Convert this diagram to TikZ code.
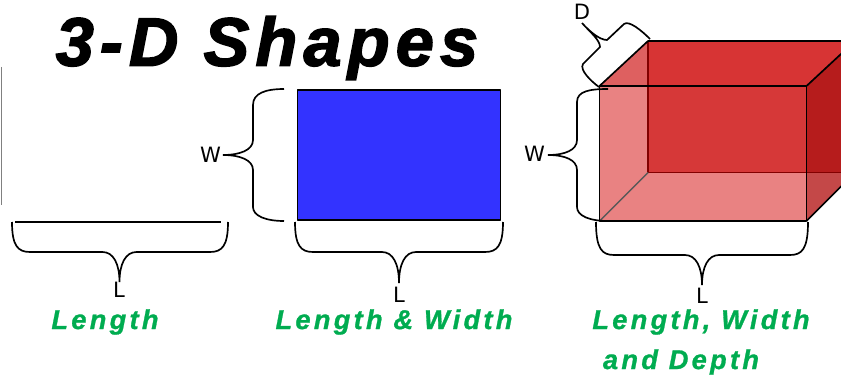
\documentclass[tikz,border=0pt]{standalone}
\usepackage{fontspec}
\setmainfont{Liberation Sans}
\newfontfamily\dimfont{DejaVu Sans}
\usetikzlibrary{arrows.meta,positioning}
\definecolor{cTitle}{RGB}{0,0,0}
\definecolor{cLabel}{RGB}{0,172,80}
\definecolor{cBlue}{RGB}{51,51,255}
\definecolor{cBack}{RGB}{214,56,56}
\definecolor{cTop}{RGB}{215,52,52}
\definecolor{cCorner}{RGB}{222,96,96}
\definecolor{cSide}{RGB}{233,130,130}
\definecolor{cRight}{RGB}{182,28,28}
\definecolor{cLow}{RGB}{196,72,72}
\definecolor{cEdge}{RGB}{130,0,0}
\newcommand{\hbrace}[6]{% left, right, tip x, top y, bar y, tip y
  \draw[bracel] (#1,#4) .. controls (#1,#5-6) and (#1+6,#5) .. (#1+18,#5)
    -- (#3-17,#5) .. controls (#3-6,#5) and (#3,#5+12) .. (#3,#6)
    .. controls (#3,#5+12) and (#3+6,#5) .. (#3+17,#5)
    -- (#2-18,#5) .. controls (#2-6,#5) and (#2,#5-6) .. (#2,#4);}
\begin{document}
\begin{tikzpicture}[
    x=0.02cm, y=-0.02cm,
    bracel/.style={draw=black, line width=0.95pt},
    edgel/.style={draw=black, line width=0.95pt, line join=round},
    title/.style={font=\fontsize{39}{42}\selectfont\bfseries\itshape\addfontfeature{LetterSpace=9,FakeBold=2.2}, text=cTitle, inner sep=0pt},
    caption/.style={font=\fontsize{15.5}{18}\selectfont\bfseries\itshape\addfontfeature{LetterSpace=12,FakeBold=1}, text=cLabel, inner sep=0pt},
    dimlab/.style={font=\dimfont\fontsize{12}{14}\selectfont, inner sep=0pt},
  ]
  \useasboundingbox (0,0) rectangle (841,375);

  \node[title] (head) at (267,48) {3-D Shapes};

  \draw[gray, line width=0.6pt] (1.5,67) -- (1.5,205);
  \draw[black, line width=0.95pt] (15,222) -- (221,222);
  \hbrace{12}{228}{119.5}{222}{252}{282}
  \node[dimlab] (l1) at (119,290) {L};
  \node[caption] (c1) at (105,322) {Length};

  \draw[edgel, fill=cBlue] (297.5,90) rectangle (500.5,220);
  \draw[bracel] (284,89) .. controls (266,89) and (253,93) .. (253,105) -- (253,140)
    .. controls (253,150) and (240,155) .. (223,155)
    .. controls (240,155) and (253,160) .. (253,170) -- (253,207)
    .. controls (253,216) and (266,221) .. (284,221);
  \node[dimlab] (w2) at (210.5,155) {W};
  \hbrace{295}{503}{399}{222}{252}{283}
  \node[dimlab] (l2) at (399,295) {L};
  \node[caption] (c2) at (394,322) {Length \& Width};

  \begin{scope}
    \clip (0,0) rectangle (841,375);
    \fill[cBack] (648,41) rectangle (855,172.5);
    \fill[cSide] (648,172.5) -- (855,172.5) -- (806.5,221) -- (599.5,221) -- cycle;
    \fill[cSide] (599.5,86) -- (648,86) -- (648,172.5) -- (599.5,221) -- cycle;
    \fill[cCorner] (599.5,86) -- (648,41) -- (648,86) -- cycle;
    \fill[cTop] (648,41) -- (855,41) -- (806.5,86) -- (648,86) -- cycle;
    \fill[cRight] (806.5,86) -- (855,41) -- (855,172.5) -- (806.5,172.5) -- cycle;
    \fill[cLow] (806.5,172.5) -- (855,172.5) -- (806.5,221) -- cycle;
    \draw[cEdge, line width=0.8pt] (648,41) -- (648,172.5) -- (855,172.5);
    \draw[black!65, line width=0.8pt] (599.5,221) -- (648,172.5);
    \draw[edgel] (599.5,86) rectangle (806.5,221);
    \draw[edgel] (599.5,86) -- (648,41) -- (855,41);
    \draw[edgel] (806.5,86) -- (855,41);
    \draw[edgel] (806.5,221) -- (855,172.5);
  \end{scope}
  \draw[bracel] (608,89) .. controls (590,89) and (577,91) .. (577,102) -- (577,140)
    .. controls (577,150) and (565,155) .. (548,155)
    .. controls (565,155) and (577,160) .. (577,170) -- (577,207)
    .. controls (577,216) and (590,221) .. (608,221);
  \draw[bracel] (599,87) .. controls (592,82) and (579,70) .. (583,64) -- (600,47)
    .. controls (600,40) and (590,32) .. (582,23)
    .. controls (590,32) and (600,40) .. (607,40) -- (624,24)
    .. controls (629,20) and (642,31) .. (650,39);
  \node[dimlab] (w3) at (534.5,154) {W};
  \node[dimlab] (d3) at (582,12) {D};
  \hbrace{596}{808}{702}{222}{255}{285}
  \node[dimlab] (l3) at (702,296) {L};
  \node[caption] (c3) at (701,322) {Length, Width};
  \node[caption] (c4) at (681,362) {and Depth};
\end{tikzpicture}
\end{document}
